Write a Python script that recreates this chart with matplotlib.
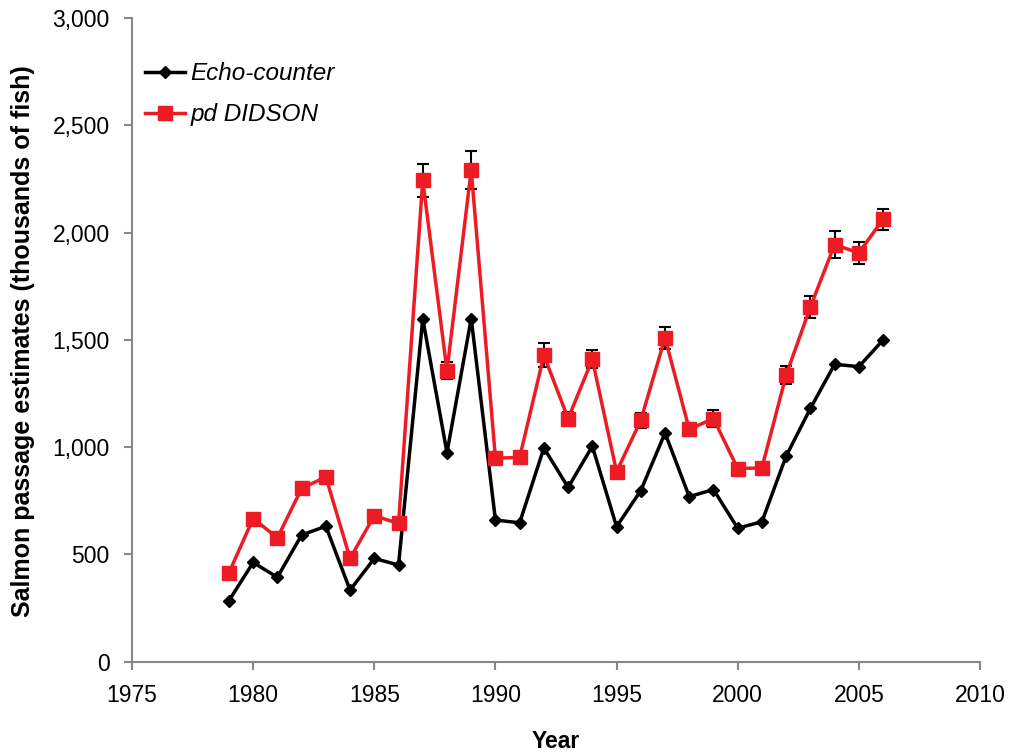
import matplotlib
matplotlib.use("Agg")
import matplotlib.pyplot as plt
from matplotlib.ticker import FuncFormatter, MultipleLocator

years = list(range(1979, 2007))
echo_counter = [284, 462, 393, 590, 631, 333, 481, 450, 1598, 974, 1599, 660, 647,
                996, 812, 1004, 629, 797, 1066, 769, 802, 622, 652, 958, 1180, 1386, 1375, 1499]
pd_didson = [414, 667, 577, 807, 861, 481, 680, 644, 2243, 1356, 2293, 948, 952,
             1428, 1133, 1409, 885, 1125, 1509, 1083, 1133, 900, 903, 1336, 1653, 1944, 1905, 2062]
didson_err = [10, 10, 10, 10, 10, 10, 10, 10, 78, 40, 88, 28, 28,
              55, 30, 42, 25, 35, 50, 30, 38, 25, 25, 43, 52, 62, 50, 50]

plt.rcParams['font.family'] = ['Liberation Sans', 'DejaVu Sans']

fig = plt.figure(figsize=(10.11, 7.53), dpi=100)
ax = fig.add_axes([0.1306, 0.1214, 0.8387, 0.8546])

red = '#ED1C24'
ax.errorbar(years, pd_didson, yerr=didson_err, fmt='none', ecolor='black',
            elinewidth=1.5, capsize=4, capthick=1.5, zorder=2)
ax.plot(years, echo_counter, color='black', lw=2.5, marker='D', ms=6.5,
        label='Echo-counter', zorder=3)
ax.plot(years, pd_didson, color=red, lw=2.5, marker='s', ms=9.5,
        label='pd DIDSON', zorder=4)

ax.set_xlim(1975, 2010)
ax.set_ylim(0, 3000)
ax.xaxis.set_major_locator(MultipleLocator(5))
ax.yaxis.set_major_locator(MultipleLocator(500))
ax.yaxis.set_major_formatter(FuncFormatter(lambda v, p: f"{int(v):,}"))

for s in ['top', 'right']:
    ax.spines[s].set_visible(False)
for s in ['left', 'bottom']:
    ax.spines[s].set_color('#888888')
    ax.spines[s].set_linewidth(1.5)
ax.tick_params(axis='both', direction='out', length=6, width=1.5, color='#888888',
               labelsize=16.5, labelcolor='black', pad=10)

ax.set_xlabel('Year', fontsize=16.5, fontweight='bold')
ax.xaxis.set_label_coords(0.5, -0.107)
ax.set_ylabel('Salmon passage estimates (thousands of fish)', fontsize=18,
              fontweight='bold', va='center')
ax.yaxis.set_label_coords(-0.129, 0.498)

leg = ax.legend(loc='upper left', bbox_to_anchor=(0.015, 0.931), frameon=False,
                prop={'style': 'italic', 'size': 17.5}, handlelength=1.65,
                labelspacing=0.73, handletextpad=0.22, borderpad=0, borderaxespad=0)

fig.savefig('out.png', dpi=100)
